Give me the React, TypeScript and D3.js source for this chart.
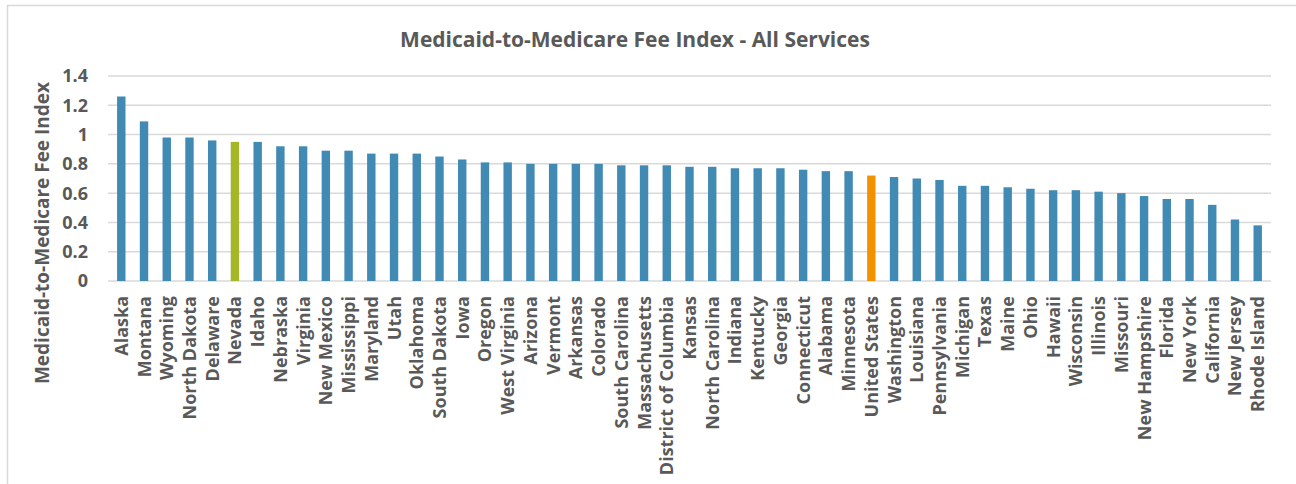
import React from 'react';
import * as d3 from 'd3';

const states = [
  'Alaska', 'Montana', 'Wyoming', 'North Dakota', 'Delaware', 'Nevada', 'Idaho', 'Nebraska',
  'Virginia', 'New Mexico', 'Mississippi', 'Maryland', 'Utah', 'Oklahoma', 'South Dakota', 'Iowa',
  'Oregon', 'West Virginia', 'Arizona', 'Vermont', 'Arkansas', 'Colorado', 'South Carolina',
  'Massachusetts', 'District of Columbia', 'Kansas', 'North Carolina', 'Indiana', 'Kentucky',
  'Georgia', 'Connecticut', 'Alabama', 'Minnesota', 'United States', 'Washington', 'Louisiana',
  'Pennsylvania', 'Michigan', 'Texas', 'Maine', 'Ohio', 'Hawaii', 'Wisconsin', 'Illinois',
  'Missouri', 'New Hampshire', 'Florida', 'New York', 'California', 'New Jersey', 'Rhode Island',
];

const feeIndex = [
  1.26, 1.09, 0.98, 0.98, 0.96, 0.95, 0.95, 0.92,
  0.92, 0.89, 0.89, 0.87, 0.87, 0.87, 0.85, 0.83,
  0.81, 0.81, 0.8, 0.8, 0.8, 0.8, 0.79,
  0.79, 0.79, 0.78, 0.78, 0.77, 0.77,
  0.77, 0.76, 0.75, 0.75, 0.72, 0.71, 0.7,
  0.69, 0.65, 0.65, 0.64, 0.63, 0.62, 0.62, 0.61,
  0.6, 0.58, 0.56, 0.56, 0.52, 0.42, 0.38,
];

const yTicks = [0, 0.2, 0.4, 0.6, 0.8, 1, 1.2, 1.4];

const highlight: Record<string, string> = {
  Nevada: '#a5b626',
  'United States': '#f39200',
};

const font = '"Open Sans", sans-serif';
const textColor = '#595959';

export default function App() {
  const width = 1296;
  const height = 484;
  const left = 108;
  const right = 1271;
  const top = 76;
  const bottom = 281;

  const x = d3.scaleBand<string>().domain(states).range([left, right]).paddingInner(0.63).paddingOuter(0.4);
  const y = d3.scaleLinear().domain([0, 1.4]).range([bottom, top]);

  return (
    <svg width={width} height={height} style={{ position: 'absolute', left: 0, top: 0 }}>
      <rect x={0} y={0} width={width} height={height} fill="#fff" />
      <rect x={7.5} y={5.5} width={width + 20} height={height + 20} fill="none" stroke="#d9d9d9" strokeWidth={1.5} />

      <text x={635} y={47} textAnchor="middle" fontFamily={font} fontWeight={700} fontSize={21} fill={textColor}>
        Medicaid-to-Medicare Fee Index - All Services
      </text>

      {yTicks.map(t => (
        <g key={t}>
          <line x1={left} x2={right} y1={y(t)} y2={y(t)} stroke="#d9d9d9" strokeWidth={1.5} />
          <text x={88} y={y(t)} dy="0.36em" textAnchor="end" fontFamily={font} fontWeight={700} fontSize={18} fill={textColor}>
            {t}
          </text>
        </g>
      ))}

      <text
        transform="translate(42,233) rotate(-90)"
        textAnchor="middle"
        dy="0.35em"
        fontFamily={font}
        fontWeight={700}
        fontSize={19}
        fill={textColor}
      >
        Medicaid-to-Medicare Fee Index
      </text>

      {states.map((s, i) => (
        <rect
          key={s}
          x={x(s)}
          y={y(feeIndex[i])}
          width={x.bandwidth()}
          height={bottom - y(feeIndex[i])}
          fill={highlight[s] || '#418ab3'}
        />
      ))}

      {states.map(s => (
        <text
          key={s}
          transform={`translate(${(x(s) as number) + x.bandwidth() / 2},296) rotate(-90)`}
          textAnchor="end"
          dy="0.36em"
          fontFamily={font}
          fontWeight={700}
          fontSize={18}
          fill={textColor}
        >
          {s}
        </text>
      ))}
    </svg>
  );
}
